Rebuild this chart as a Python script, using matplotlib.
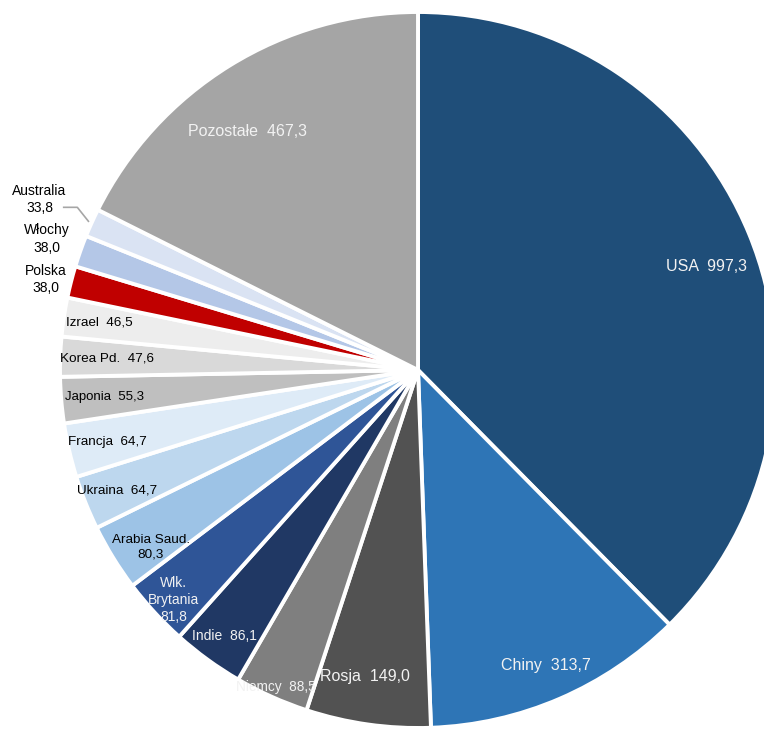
import numpy as np
import matplotlib.pyplot as plt

plt.rcParams["font.family"] = ["Liberation Sans", "DejaVu Sans"]

countries = ["USA", "Chiny", "Rosja", "Niemcy", "Indie", "Wlk.\nBrytania", "Arabia Saud.",
             "Ukraina", "Francja", "Japonia", "Korea Pd.", "Izrael", "Polska", "Włochy",
             "Australia", "Pozostałe"]
values = [997.3, 313.7, 149.0, 88.5, 86.1, 81.8, 80.3, 64.7, 64.7, 55.3, 47.6, 46.5,
          38.0, 38.0, 33.8, 467.3]

colors = ["#1F4E79", "#2E75B6", "#525252", "#7F7F7F", "#203864", "#2F5597", "#9DC3E6",
          "#BDD7EE", "#DEEBF7", "#BFBFBF", "#D9D9D9", "#EDEDED", "#C00000", "#B4C7E7",
          "#DAE3F3", "#A5A5A5"]

# label placement per slice: radius factor, angle shift (deg), colour, stacked, size
label_r = [0.857, 0.90, 0.87, 0.97, 0.92, 0.937, 0.895, 0.905, 0.89, 0.88, 0.87, 0.90,
           1.07, 1.10, 1.16, 0.82]
label_da = [-2.6, 0, -1.8, 0, 0, 0.7, 1.9, 0, 0, 0, 0, 0, 0.6, 0, 0, 3.8]
light = "#F2F2F2"
text_col = [light, light, light, light, light, light, "black", "black", "black", "black",
            "black", "black", "black", "black", "black", light]
stacked = [False, False, False, False, False, True, True, False, False, False, False,
           False, True, True, True, False]
font_sz = [11.5, 11.5, 11.5, 9.8, 10, 10, 9.7, 9.7, 9.7, 9.5, 9.7, 9.7, 10, 10, 10, 11.5]

fig = plt.figure(figsize=(7.64, 7.31), dpi=100)
ax = fig.add_axes([0, 0, 1, 1])

wedges, _ = ax.pie(values, colors=colors, startangle=90, counterclock=False, radius=1.0,
                   wedgeprops=dict(edgecolor="white", linewidth=2.8))

for w, name, v, r, da, c, st, fs in zip(wedges, countries, values, label_r, label_da,
                                        text_col, stacked, font_sz):
    ang = np.deg2rad((w.theta1 + w.theta2) / 2 + da)
    x, y = r * np.cos(ang), r * np.sin(ang)
    val = f"{v:.1f}".replace(".", ",")
    txt = f"{name}\n{val}" if st else f"{name}  {val}"
    ax.text(x, y, txt, ha="center", va="center", multialignment="center",
            color=c, fontsize=fs, linespacing=1.3 if st else 1.2)
    if name == "Australia":
        ex, ey = 1.01 * np.cos(ang), 1.01 * np.sin(ang)
        ax.plot([ex - 0.069, ex - 0.031, ex], [ey + 0.039, ey + 0.039, ey],
                color="#A6A6A6", linewidth=1.2)

ax.set_aspect("equal")
ax.set_xlim(-418 / 358, (764 - 418) / 358)
ax.set_ylim(-(731 - 370) / 358, 370 / 358)
ax.axis("off")

fig.savefig("out.png", dpi=100)
